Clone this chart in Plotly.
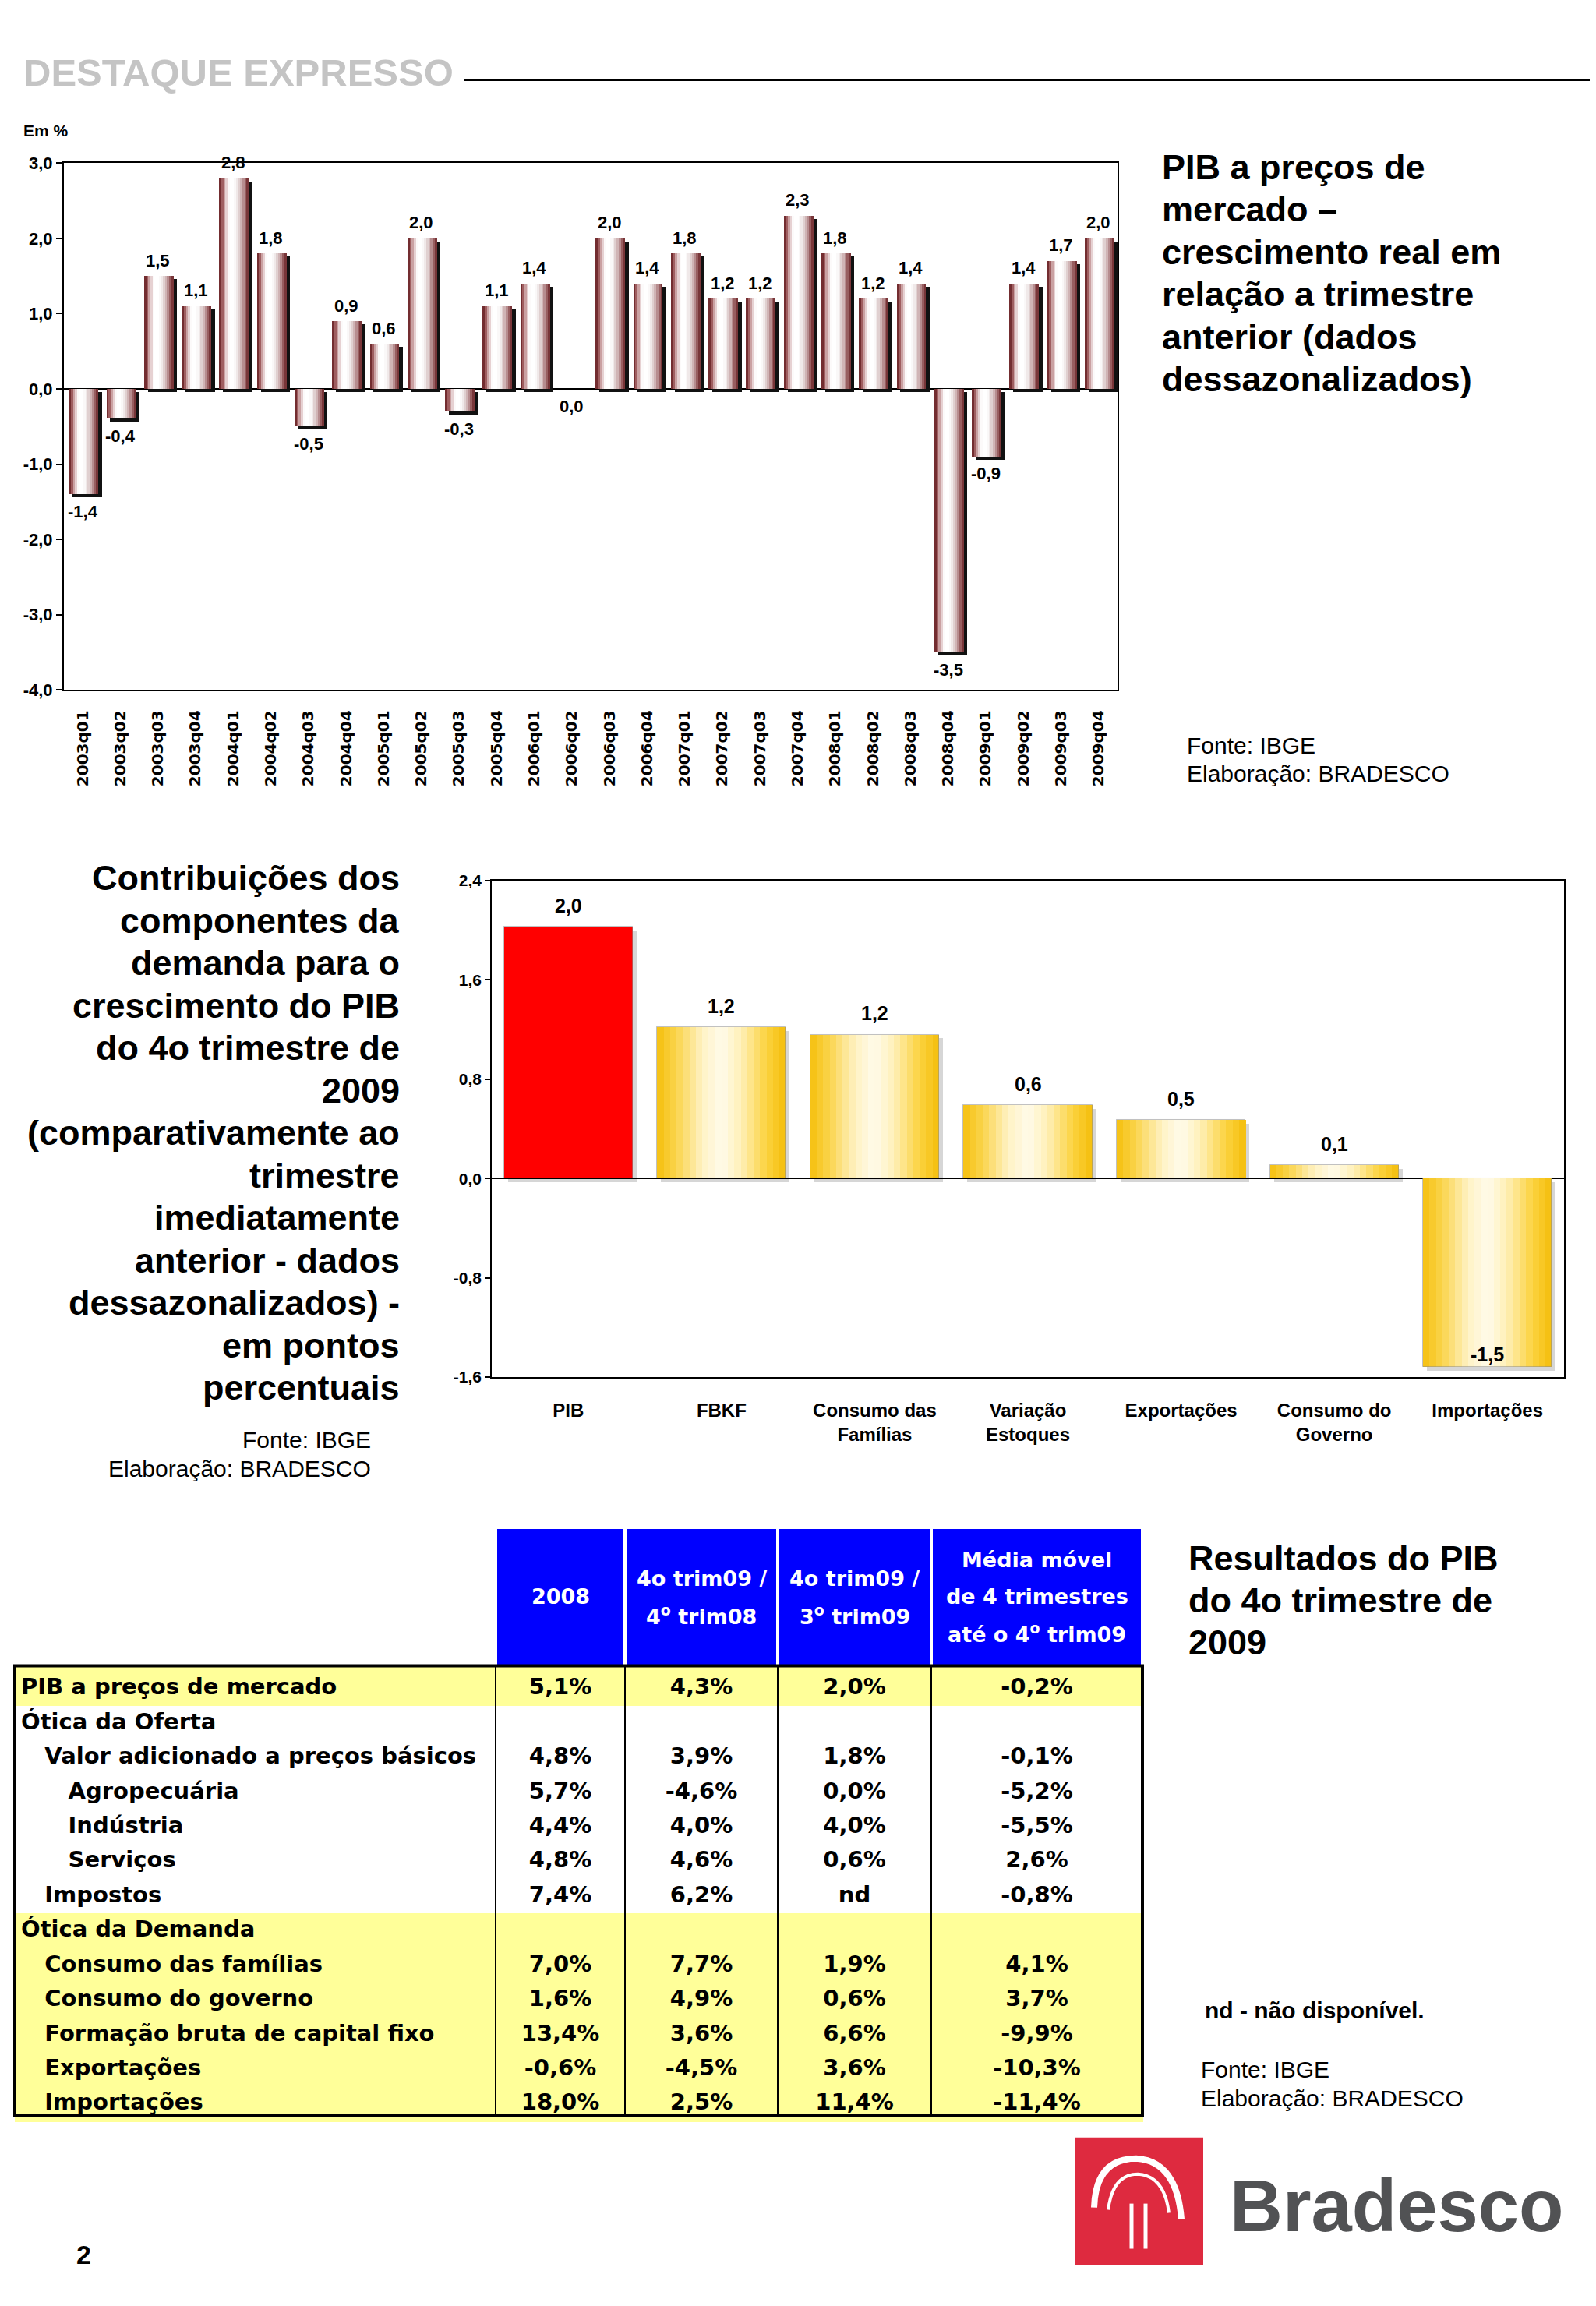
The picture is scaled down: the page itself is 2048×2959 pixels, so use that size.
import plotly.graph_objects as go

# page is 2048 x 2959; the browser's default 8px body margin is kept, so the figure
# is sized to fill the page exactly inside that margin
PAGE_W, PAGE_H, OFF = 2048, 2959, 8
W, H = PAGE_W - 2 * OFF, PAGE_H - 2 * OFF
# measured vertical mapping of the capture (image_y = SCALE_Y * page_y + SHIFT_Y); compensated below
SCALE_Y, SHIFT_Y = 0.9929, 11.5


def px(x):
    return (x - OFF) / W


def py(y):
    page_y = (y - SHIFT_Y) / SCALE_Y
    return 1 - (page_y - OFF) / H


# ---------------- data ----------------
quarters = ["2003q01", "2003q02", "2003q03", "2003q04", "2004q01", "2004q02", "2004q03", "2004q04",
            "2005q01", "2005q02", "2005q03", "2005q04", "2006q01", "2006q02", "2006q03", "2006q04",
            "2007q01", "2007q02", "2007q03", "2007q04", "2008q01", "2008q02", "2008q03", "2008q04",
            "2009q01", "2009q02", "2009q03", "2009q04"]
growth = [-1.4, -0.4, 1.5, 1.1, 2.8, 1.8, -0.5, 0.9,
          0.6, 2.0, -0.3, 1.1, 1.4, 0.0, 2.0, 1.4,
          1.8, 1.2, 1.2, 2.3, 1.8, 1.2, 1.4, -3.5,
          -0.9, 1.4, 1.7, 2.0]
growth_ticks = [-4, -3, -2, -1, 0, 1, 2, 3]

components = ["PIB", "FBKF", "Consumo das<br>Famílias", "Variação<br>Estoques", "Exportações",
              "Consumo do<br>Governo", "Importações"]
contrib = [2.03, 1.22, 1.16, 0.59, 0.47, 0.11, -1.52]
contrib_labels = ["2,0", "1,2", "1,2", "0,6", "0,5", "0,1", "-1,5"]
contrib_ticks = [-1.6, -0.8, 0.0, 0.8, 1.6, 2.4]
highlight_component = "PIB"

row_labels = ["PIB a preços de mercado", "Ótica da Oferta", "Valor adicionado a preços básicos",
              "Agropecuária", "Indústria", "Serviços", "Impostos", "Ótica da Demanda",
              "Consumo das famílias", "Consumo do governo", "Formação bruta de capital fixo",
              "Exportações", "Importações"]
row_level = [0, 0, 1, 2, 2, 2, 1, 0, 1, 1, 1, 1, 1]
col_2008 = ["5,1%", "", "4,8%", "5,7%", "4,4%", "4,8%", "7,4%", "", "7,0%", "1,6%", "13,4%", "-0,6%", "18,0%"]
col_4t09_4t08 = ["4,3%", "", "3,9%", "-4,6%", "4,0%", "4,6%", "6,2%", "", "7,7%", "4,9%", "3,6%", "-4,5%", "2,5%"]
col_4t09_3t09 = ["2,0%", "", "1,8%", "0,0%", "4,0%", "0,6%", "nd", "", "1,9%", "0,6%", "6,6%", "3,6%", "11,4%"]
col_media = ["-0,2%", "", "-0,1%", "-5,2%", "-5,5%", "2,6%", "-0,8%", "", "4,1%", "3,7%", "-9,9%", "-10,3%", "-11,4%"]
header_labels = ["", "2008", "4o trim09 /<br>4<sup>o</sup> trim08", "4o trim09 /<br>3<sup>o</sup> trim09",
                 "Média móvel<br>de 4 trimestres<br>até o 4<sup>o</sup> trim09"]
highlight_rows = [0, 7, 8, 9, 10, 11, 12]

title1_lines = ["PIB a preços de", "mercado –", "crescimento real em", "relação a trimestre",
                "anterior (dados", "dessazonalizados)"]
title2_lines = ["Contribuições dos", "componentes da", "demanda para o", "crescimento do PIB",
                "do 4o trimestre de", "2009", "(comparativamente ao", "trimestre", "imediatamente",
                "anterior - dados", "dessazonalizados) -", "em pontos", "percentuais"]
title3_lines = ["Resultados do PIB", "do 4o trimestre de", "2009"]
source_lines = ["Fonte: IBGE", "Elaboração: BRADESCO"]


# ---------------- style helpers ----------------
def hex2rgb(h):
    h = h.lstrip("#")
    return tuple(int(h[i:i + 2], 16) for i in (0, 2, 4))


def interp(stops, t):
    for (t0, c0), (t1, c1) in zip(stops, stops[1:]):
        if t0 <= t <= t1:
            f = (t - t0) / (t1 - t0) if t1 > t0 else 0
            a, b = hex2rgb(c0), hex2rgb(c1)
            return "rgb(%d,%d,%d)" % tuple(round(a[i] + (b[i] - a[i]) * f) for i in range(3))
    return stops[-1][1]


def fmt1(v):
    return ("%.1f" % v).replace(".", ",")


ARIAL = "Liberation Sans, Arial, sans-serif"
WIDE = "DejaVu Sans, Verdana, sans-serif"

fig = go.Figure()

# ---------------- chart 1: quarterly growth ----------------
maroon_stops = [(0.0, "#5e1a1d"), (0.08, "#8e4447"), (0.2, "#d7b5b6"), (0.33, "#ffffff"),
                (0.5, "#ffffff"), (0.62, "#eee6e6"), (0.78, "#c9a9aa"), (0.9, "#95595b"), (1.0, "#6a2326")]
B1_START, B1_W, N1 = -0.37, 0.78, 14

fig.add_trace(go.Bar(x=quarters, y=growth, base=-0.045, offset=B1_START + 0.1, width=B1_W,
                     marker=dict(color="#111111", line_width=0), xaxis="x", yaxis="y",
                     hoverinfo="skip", showlegend=False))
for i in range(N1):
    t = (i + 0.5) / N1
    fig.add_trace(go.Bar(x=quarters, y=growth, offset=B1_START + i * B1_W / N1,
                         width=B1_W / N1 + 0.004,
                         marker=dict(color=interp(maroon_stops, t), line_width=0),
                         xaxis="x", yaxis="y", hoverinfo="skip", showlegend=False))

# ---------------- chart 2: contributions ----------------
gold_stops = [(0.0, "#f5c00e"), (0.15, "#fad44c"), (0.35, "#fff2c4"), (0.5, "#fffbea"),
              (0.65, "#fff0b8"), (0.85, "#fbd23e"), (1.0, "#f4be0c")]
B2_START, B2_W, N2 = -0.42, 0.84, 20

fig.add_trace(go.Bar(x=components, y=contrib, base=-0.03, offset=B2_START + 0.025, width=B2_W,
                     marker=dict(color="rgba(0,0,0,0.16)", line_width=0), xaxis="x2", yaxis="y2",
                     hoverinfo="skip", showlegend=False))
for i in range(N2):
    t = (i + 0.5) / N2
    cols = ["#ff0000" if c == highlight_component else interp(gold_stops, t) for c in components]
    fig.add_trace(go.Bar(x=components, y=contrib, offset=B2_START + i * B2_W / N2,
                         width=B2_W / N2 + 0.002,
                         marker=dict(color=cols, line_width=0),
                         xaxis="x2", yaxis="y2", hoverinfo="skip", showlegend=False))
fig.add_trace(go.Bar(x=components, y=contrib, offset=B2_START, width=B2_W,
                     marker=dict(color="rgba(0,0,0,0)", line=dict(color="rgba(140,140,140,0.55)", width=1)),
                     xaxis="x2", yaxis="y2", hoverinfo="skip", showlegend=False))

# ---------------- table ----------------
NB = "\u00a0"
label_cells = [NB * (3 * lv) + lab.replace(" ", NB) for lab, lv in zip(row_labels, row_level)]
row_fill = ["#ffff99" if i in highlight_rows else "#ffffff" for i in range(len(row_labels))]
col_bounds = [19, 636, 802, 998, 1195, 1466]
col_widths = [b - a for a, b in zip(col_bounds, col_bounds[1:])]
BLUE = "#0000ff"
TABLE_TOP, HEADER_H = 1962, 178
BODY_PAD, ROW_H = 7, 44.1
body_top = TABLE_TOP + HEADER_H
body_bottom = 2718

# blue header block
fig.add_trace(go.Table(
    domain=dict(x=[px(col_bounds[0]), px(col_bounds[-1])], y=[py(body_top + 20), py(TABLE_TOP)]),
    columnwidth=col_widths,
    header=dict(values=[""] * 5, height=HEADER_H / SCALE_Y,
                fill=dict(color=["#ffffff"] + [BLUE] * 4),
                line=dict(color="#ffffff", width=4)),
    cells=dict(values=[[""]] * 5, height=1, fill=dict(color="#ffffff"), line=dict(color="#ffffff", width=0)),
))
# body rows
fig.add_trace(go.Table(
    domain=dict(x=[px(col_bounds[0]), px(col_bounds[-1])], y=[py(2790), py(body_top)]),
    columnwidth=col_widths,
    header=dict(values=[""] * 5, height=BODY_PAD / SCALE_Y,
                fill=dict(color=row_fill[0]), line=dict(color=row_fill[0], width=1)),
    cells=dict(values=[label_cells, col_2008, col_4t09_4t08, col_4t09_3t09, col_media],
               height=ROW_H / SCALE_Y,
               fill=dict(color=[row_fill] * 5),
               line=dict(color=[row_fill] * 5, width=1),
               align=["left", "center", "center", "center", "center"],
               font=dict(family=WIDE, size=29, color="black", weight="bold")),
))

# ---------------- annotations ----------------
ann = []
for q, v in zip(quarters, growth):
    ann.append(dict(x=q, y=v, xref="x", yref="y", text=fmt1(v), showarrow=False,
                    yshift=20 if v > 0 else -22,
                    font=dict(family=ARIAL, size=22, color="black", weight="bold")))
for c, v, lab in zip(components, contrib, contrib_labels):
    ann.append(dict(x=c, y=v, xref="x2", yref="y2", text=lab, showarrow=False,
                    yshift=27 if v > 0 else 16,
                    font=dict(family=ARIAL, size=25, color="black", weight="bold")))


def text_lines(lines, x, y0, dy, size, anchor="left", weight="bold", color="black"):
    for k, line in enumerate(lines):
        ann.append(dict(x=px(x), y=py(y0 + k * dy), xref="paper", yref="paper", text=line,
                        showarrow=False, xanchor=anchor, yanchor="middle",
                        font=dict(family=ARIAL, size=size, color=color, weight=weight)))


text_lines(["DESTAQUE EXPRESSO"], 28, 93, 0, 49, color="#c4c4c4")
text_lines(["Em %"], 28, 167, 0, 21)
text_lines(title1_lines, 1489, 214, 54.6, 45)
text_lines(source_lines, 1521, 957, 36, 30, weight="normal")
text_lines(title2_lines, 515, 1128, 54.55, 45, anchor="right")
text_lines(source_lines, 478, 1850, 37, 30, anchor="right", weight="normal")
text_lines(title3_lines, 1523, 2002, 54, 45)
text_lines(["nd - não disponível."], 1544, 2583, 0, 30)
text_lines(source_lines, 1539, 2659, 37, 30, weight="normal")
text_lines(["2"], 96, 2896, 0, 34)

# table header text
for j, lab in enumerate(header_labels):
    if not lab:
        continue
    parts = lab.split("<br>")
    xc = (col_bounds[j] + col_bounds[j + 1]) / 2
    yc = TABLE_TOP + HEADER_H / 2
    for k, part in enumerate(parts):
        ann.append(dict(x=px(xc), y=py(yc + (k - (len(parts) - 1) / 2) * 47), xref="paper", yref="paper",
                        text=part, showarrow=False, xanchor="center", yanchor="middle",
                        font=dict(family=WIDE, size=27, color="white", weight="bold")))

# logo word
ann.append(dict(x=px(1576), y=py(2834), xref="paper", yref="paper", text="Bradesco", showarrow=False,
                xanchor="left", yanchor="middle",
                font=dict(family=ARIAL, size=94, color="#515254", weight="bold")))

# ---------------- shapes ----------------
shapes = []
shapes.append(dict(type="line", xref="paper", yref="paper", x0=px(595), x1=px(PAGE_W - OFF), y0=py(102), y1=py(102),
                   line=dict(color="black", width=3)))
# table borders
shapes.append(dict(type="rect", xref="paper", yref="paper", x0=px(col_bounds[0]), x1=px(col_bounds[-1]),
                   y0=py(body_top), y1=py(body_bottom), line=dict(color="black", width=4)))
for b in col_bounds[1:-1]:
    shapes.append(dict(type="line", xref="paper", yref="paper", x0=px(b), x1=px(b),
                       y0=py(body_top), y1=py(body_bottom), line=dict(color="black", width=2)))
# logo
shapes.append(dict(type="rect", xref="paper", yref="paper", x0=px(1380), x1=px(1544), y0=py(2746), y1=py(2910),
                   line=dict(width=0), fillcolor="#de2a3f"))


def pth(pts):
    out = []
    for cmd, coords in pts:
        out.append(cmd + " " + " ".join("%.5f,%.5f" % (px(a), py(b)) for a, b in coords))
    return " ".join(out)


shapes.append(dict(type="path", xref="paper", yref="paper",
                   path=pth([("M", [(1404, 2836)]), ("Q", [(1406, 2773), (1458, 2773)]),
                             ("Q", [(1510, 2776), (1516, 2851)])]),
                   line=dict(color="white", width=8)))
shapes.append(dict(type="path", xref="paper", yref="paper",
                   path=pth([("M", [(1422, 2839)]), ("Q", [(1428, 2793), (1460, 2793)]),
                             ("Q", [(1494, 2795), (1500, 2843)])]),
                   line=dict(color="white", width=4)))
for xv in (1452, 1470):
    shapes.append(dict(type="line", xref="paper", yref="paper", x0=px(xv), x1=px(xv), y0=py(2831), y1=py(2889),
                       line=dict(color="white", width=5)))

# ---------------- layout ----------------
fig.update_layout(
    width=W, height=H, margin=dict(l=0, r=0, t=0, b=0, pad=0),
    paper_bgcolor="white", plot_bgcolor="white",
    barmode="overlay", bargap=0,
    showlegend=False,
    annotations=ann, shapes=shapes,
    xaxis=dict(domain=[px(82), px(1434)], anchor="y", type="category", range=[-0.5, len(quarters) - 0.5],
               tickangle=-90, ticks="", ticklabelstandoff=16,
               tickfont=dict(family=WIDE, size=20, color="black", weight="bold"),
               showline=True, mirror=True, linecolor="black", linewidth=2, showgrid=False, fixedrange=True),
    yaxis=dict(domain=[py(886), py(209)], anchor="x", range=[-4, 3],
               tickvals=growth_ticks, ticktext=[fmt1(v) for v in growth_ticks],
               ticks="outside", ticklen=8, tickcolor="black", tickwidth=1.5,
               tickfont=dict(family=ARIAL, size=22, color="black", weight="bold"),
               showline=True, mirror=True, linecolor="black", linewidth=2, showgrid=False,
               zeroline=True, zerolinecolor="black", zerolinewidth=1.5, fixedrange=True),
    xaxis2=dict(domain=[px(631), px(2007)], anchor="y2", type="category", range=[-0.5, len(components) - 0.5],
                ticks="", ticklabelstandoff=20,
                tickfont=dict(family=ARIAL, size=24, color="black", weight="bold"),
                showline=True, mirror=True, linecolor="black", linewidth=1.5, showgrid=False, fixedrange=True),
    yaxis2=dict(domain=[py(1769), py(1131)], anchor="x2", range=[-1.6, 2.4],
                tickvals=contrib_ticks, ticktext=[fmt1(v) for v in contrib_ticks],
                ticks="outside", ticklen=7, tickcolor="black", tickwidth=1.5,
                tickfont=dict(family=ARIAL, size=21, color="black", weight="bold"),
                showline=True, mirror=True, linecolor="black", linewidth=1.5, showgrid=False,
                zeroline=True, zerolinecolor="black", zerolinewidth=1.5, fixedrange=True),
)

fig.write_html("out.html", config={"displayModeBar": False})
